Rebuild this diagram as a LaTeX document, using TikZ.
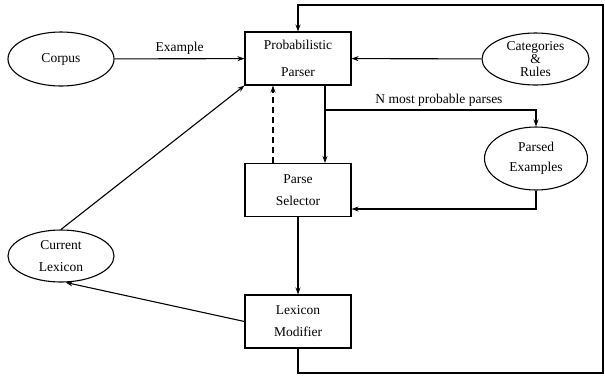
\documentclass[tikz,border=0pt]{standalone}
\usepackage{fontspec}
\setmainfont{Liberation Serif}
\usetikzlibrary{arrows.meta, shapes.geometric}
\tikzset{arr/.style={-{Stealth[length=7pt, width=5pt]}}}
\tikzset{stage/.style={draw, rectangle, minimum width=106pt, minimum height=53pt, align=center, inner sep=0pt}}
\tikzset{store/.style={draw, ellipse, minimum width=106pt, minimum height=54pt, align=center, inner sep=0pt}}
\begin{document}
\begin{tikzpicture}[x=1pt, y=-1pt, line width=1.1pt, font=\fontsize{13.5}{22}\selectfont]
\useasboundingbox (0,0) rectangle (605,376);
\node[stage, font=\fontsize{13.5}{27}\selectfont] (parser) at (298,58.5) {Probabilistic\\Parser};
\node[stage] (selector) at (298,190) {Parse\\Selector};
\node[stage] (modifier) at (298,321.5) {Lexicon\\Modifier};
\node[store] (corpus) at (61,59) {Corpus};
\node[store, minimum width=107pt, minimum height=52pt, font=\fontsize{13.5}{13}\selectfont] (rules) at (535.5,59) {Categories\\\&\\Rules};
\node[store, minimum width=103pt, minimum height=63pt, font=\fontsize{13.5}{20}\selectfont] (parsed) at (536,158.5) {Parsed\\Examples};
\node[store, minimum height=52pt] (lexicon) at (61,256) {Current\\Lexicon};
\coordinate (split) at (325,110);
\coordinate (br) at (603,373);
\coordinate (tr) at (603,5);
\draw[arr] (corpus) -- node[above] {Example} (parser);
\draw[arr] (rules) -- (parser);
\draw[arr] ([xshift=27pt]parser.south) -- ([xshift=27pt]selector.north);
\draw[arr] (split) -| node[pos=0.27, above] {N most probable parses} (parsed.north);
\draw[arr, dash pattern=on 6pt off 4pt] ([xshift=-25pt]selector.north) -- ([xshift=-25pt]parser.south);
\draw[arr] (parsed.south) |- ([yshift=-19pt]selector.east);
\draw[arr] (selector) -- (modifier);
\draw[arr] (modifier.west) -- (lexicon.280);
\draw[arr] (lexicon.north) -- (parser.south west);
\draw[arr] (modifier.south) |- (br) -- (tr) -| (parser.north);
\end{tikzpicture}
\end{document}
